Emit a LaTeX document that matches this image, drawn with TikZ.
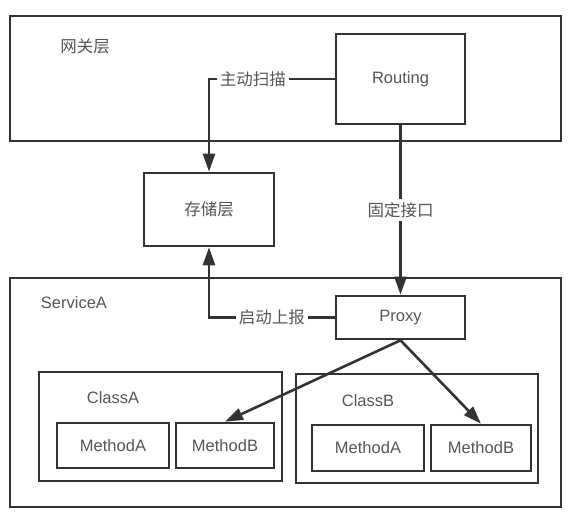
\documentclass[tikz,border=0pt]{standalone}
\usepackage{fontspec}
\setmainfont{Liberation Sans}
\newfontfamily\cjk{Noto Sans CJK SC}
\usepackage{tikz}
\usetikzlibrary{arrows.meta}
\definecolor{linegray}{HTML}{333333}
\definecolor{textgray}{HTML}{555555}

\begin{document}
\begin{tikzpicture}[x=1pt, y=-1pt,
    font=\fontsize{16.5}{20}\selectfont,
    >={Triangle[length=18pt, width=12pt]},
    box/.style={draw=linegray, line width=2.6pt, text=textgray, inner sep=0pt},
    tag/.style={text=textgray, inner sep=0pt},
    linktext/.style={fill=white, text=textgray, inner sep=3pt},
    link/.style={->, draw=linegray, line width=2.6pt}]
  \useasboundingbox (0,0) rectangle (584,519);

  % gateway layer
  \draw[linegray, line width=2.6pt] (10,16) rectangle (561,141);
  \node[tag] at (85,46) (gateway) { \cjk 网关层 };
  \node[box, minimum width=129pt, minimum height=90pt] at (400.5,79) (routing) { Routing };

  % storage
  \node[box, minimum width=130pt, minimum height=73pt] at (209,209.5) (storage) { \cjk 存储层 };

  % service
  \draw[linegray, line width=2.6pt] (10,278) rectangle (561,507);
  \node[tag] at (74,303) (service) { ServiceA };
  \node[box, minimum width=129pt, minimum height=43pt] at (400.5,317.5) (proxy) { Proxy };

  \draw[linegray, line width=2.6pt] (39,372) rectangle (282,481);
  \node[tag] at (113,398) (class-a) { ClassA };
  \node[box, minimum width=112pt, minimum height=45pt] at (113,445.5) (a-method-a) { MethodA };
  \node[box, minimum width=98pt, minimum height=45pt] at (225,445.5) (a-method-b) { MethodB };

  \draw[linegray, line width=2.6pt] (296,374) rectangle (538,483);
  \node[tag] at (368,401) (class-b) { ClassB };
  \node[box, minimum width=112pt, minimum height=46pt] at (368,448) (b-method-a) { MethodA };
  \node[box, minimum width=100pt, minimum height=46pt] at (481,448) (b-method-b) { MethodB };

  % connectors
  \draw[link] (routing.west) -| node[pos=0.325, linktext] { \cjk 主动扫描 } (storage.north);
  \draw[link] (routing.south) -- node[linktext] { \cjk 固定接口 } (proxy.north);
  \draw[link] (proxy.west) -| node[pos=0.25, linktext] { \cjk 启动上报 } (storage.south);

  \draw[link] (proxy.south) -- (a-method-b.north);
  \draw[link] (proxy.south) -- (b-method-b.north);
\end{tikzpicture}
\end{document}
